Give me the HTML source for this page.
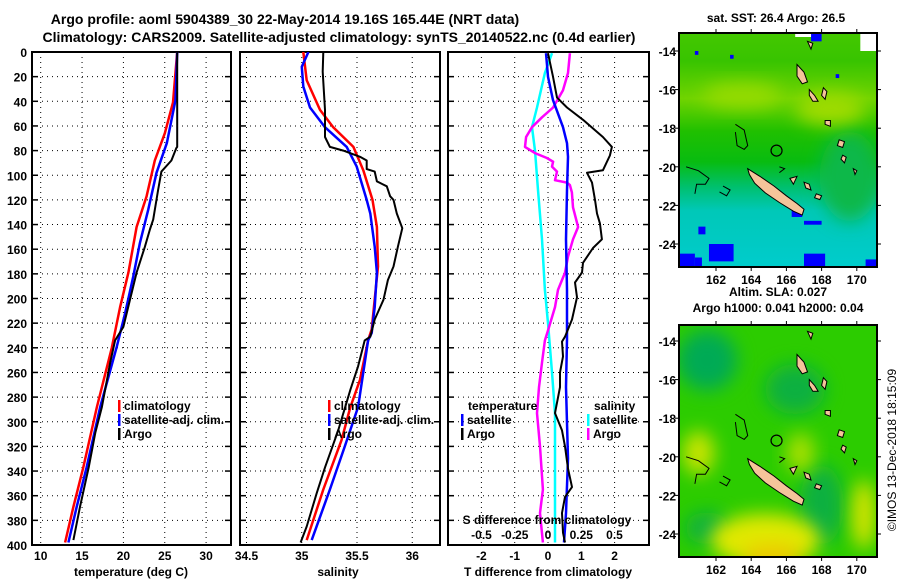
<!DOCTYPE html>
<html><head><meta charset="utf-8"><style>
body{margin:0;background:#fff;}
svg{display:block;font-family:"Liberation Sans",sans-serif;font-weight:bold;}
</style></head><body>
<svg id="c" width="900" height="580" viewBox="0 0 900 580" xmlns="http://www.w3.org/2000/svg">
<defs>
<clipPath id="cp1"><rect x="32" y="52" width="199" height="493"/></clipPath>
<clipPath id="cp2"><rect x="240" y="52" width="200" height="493"/></clipPath>
<clipPath id="cp3"><rect x="448" y="52" width="201" height="493"/></clipPath>
<clipPath id="cm1"><rect x="679" y="33" width="198" height="234"/></clipPath>
<clipPath id="cm2"><rect x="679" y="325" width="198" height="232"/></clipPath>
<filter id="blur" x="-50%" y="-50%" width="200%" height="200%"><feGaussianBlur stdDeviation="9"/></filter>
<linearGradient id="sstg" x1="0" y1="0" x2="0" y2="1">
<stop offset="0" stop-color="#44c800"/><stop offset="0.12" stop-color="#38c400"/>
<stop offset="0.28" stop-color="#70d400"/><stop offset="0.42" stop-color="#20c000"/>
<stop offset="0.55" stop-color="#08bc10"/><stop offset="0.66" stop-color="#00c070"/>
<stop offset="0.76" stop-color="#00c8b8"/><stop offset="1" stop-color="#00cccc"/>
</linearGradient>
</defs>
<text x="285" y="24" font-size="14" text-anchor="middle">Argo profile: aoml 5904389_30 22-May-2014 19.16S 165.44E (NRT data)</text>
<text x="339" y="42" font-size="14" text-anchor="middle">Climatology: CARS2009. Satellite-adjusted climatology: synTS_20140522.nc (0.4d earlier)</text>
<g id="g"></g>
</svg>
<script>
// ---- data: temperature panel ----
const climTDepth=[0,41,66,88,117,142,179,207,240,288,337,369,398];
const climTValue=[26.5,26.0,25.0,23.8,22.8,21.6,20.6,19.6,18.6,16.8,15.15,13.95,12.95];
const satTDepth=[0,39,74,98,128,155,182,212,239,288,337,369,398];
const satTValue=[26.5,26.3,25.25,24.0,23.0,22.0,21.2,20.2,19.2,17.2,15.55,14.35,13.35];
const argoTDepth=[0,77,78,88,97,112,136,144,158,179,201,223,234,252,288,309,337,369,396];
const argoTValue=[26.5,26.5,26.4,25.8,24.6,24.2,23.6,23.2,22.6,21.6,20.8,20.0,19.0,18.4,17.4,16.6,15.8,14.75,13.95];
// ---- data: salinity panel ----
const climSDepth=[0,23,47,61,77,96,120,142,174,225,234,266,288,315,355,396];
const climSValue=[35.014,35.045,35.165,35.285,35.467,35.557,35.64,35.68,35.69,35.633,35.6,35.527,35.44,35.36,35.195,35.045];
const satSDepth=[0,12,28,45,61,77,93,120,131,158,179,207,228,234,288,320,355,396];
const satSValue=[35.06,35.0,35.014,35.075,35.21,35.407,35.497,35.588,35.62,35.66,35.68,35.66,35.633,35.6,35.51,35.39,35.255,35.09];
const argoSDepth=[0,16,47,69,77,80,85,88,95,97,105,109,117,120,131,143,158,174,185,201,217,231,234,255,274,307,337,358,385,398];
const argoSValue=[35.195,35.19,35.21,35.21,35.255,35.376,35.527,35.588,35.588,35.66,35.68,35.77,35.8,35.83,35.86,35.91,35.87,35.83,35.78,35.74,35.66,35.62,35.57,35.51,35.44,35.33,35.21,35.135,35.045,34.99];
// ---- data: difference panel ----
const dTArgoDepth=[1,20,37,45,55,69,77,84,96,98,106,120,131,139,152,159,171,179,187,199,217,231,235,247,260,272,293,307,320,338,353,361,374,390,398];
const dTArgoValue=[0,0.15,0.27,0.57,1.05,1.65,1.92,1.86,1.65,1.17,1.32,1.41,1.47,1.56,1.62,1.35,1.05,1.02,0.81,0.87,0.72,0.51,0.42,0.45,0.36,0.36,0.21,0.42,0.51,0.6,0.72,0.51,0.42,0.45,0.51];
const dTSatDepth=[1,20,39,61,74,85,112,152,193,233,272,330,374,398];
const dTSatValue=[-0.06,0,0.15,0.45,0.57,0.6,0.57,0.54,0.57,0.57,0.54,0.6,0.54,0.48];
const dSSatDepth=[1,17,45,61,80,112,152,193,220,260,293,347,398];
const dSSatValue=[0.03,-0.023,-0.083,-0.12,-0.098,-0.075,-0.045,-0.023,0,0.03,0.053,0.053,0.053];
const dSArgoDepth=[1,17,31,45,53,61,69,77,82,86,89,93,97,104,106,108,114,126,142,152,166,179,193,207,226,234,252,272,293,320,355,374,398];
const dSArgoValue=[0.165,0.15,0.113,0.038,-0.045,-0.12,-0.165,-0.173,-0.098,-0.008,0.038,0.03,0.068,0.053,0.143,0.165,0.18,0.188,0.226,0.188,0.15,0.128,0.075,0.053,0,-0.023,-0.045,-0.068,-0.083,-0.06,-0.038,-0.06,-0.038];
// ---- tick labels ----
const depthTicks=[0,20,40,60,80,100,120,140,160,180,200,220,240,260,280,300,320,340,360,380,400];
const tempTicks=[10,15,20,25,30];
const salTicks=[34.5,35,35.5,36];
const dTTicks=[-2,-1,0,1,2];
const dSTicks=[-0.5,-0.25,0,0.25,0.5];
const dSTickLabels=["-0.5","-0.25","0","0.25","0.5"];
const lonTicks=[162,164,166,168,170];
const latTicks=[14,16,18,20,22,24];

const NS="http://www.w3.org/2000/svg";
const G=document.getElementById('g');
function el(tag,attrs,parent,txt){const e=document.createElementNS(NS,tag);for(const k in attrs)e.setAttribute(k,attrs[k]);if(txt!==undefined)e.textContent=txt;(parent||G).appendChild(e);return e;}
const yD=d=>52+d*1.2325;
const xT=t=>40.7+(t-10)*8.27;
const xS=s=>246.5+(s-34.5)*110.5;
const xDT=t=>548+t*33.3;
const xDS=s=>548+s*133;
const mx=lon=>716+(lon-162)*17.6;
const my1=lat=>51+(lat-14)*19.3;
const my2=lat=>341+(lat-14)*19.3;

function panel(x0,x1,name,gridXs){
  const p=el('g',{});
  
  
  gridXs.forEach(x=>{const l=el('line',{x1:x,x2:x,y1:52,y2:545,stroke:'#000','stroke-width':1,'stroke-dasharray':'1,4'},p);
    });
  depthTicks.forEach(d=>{const y=yD(d);
    if(d>0&&d<400){const l=el('line',{x1:x0,x2:x1,y1:y,y2:y,stroke:'#000','stroke-width':1,'stroke-dasharray':'1,4'},p);
      }
    el('line',{x1:x0,x2:x0+6,y1:y,y2:y,stroke:'#000','stroke-width':1.5},p);
    el('line',{x1:x1-6,x2:x1,y1:y,y2:y,stroke:'#000','stroke-width':1.5},p);
  });
  const r=el('rect',{x:x0,y:52,width:x1-x0,height:493,fill:'none',stroke:'#000','stroke-width':2},p);
  
  return p;
}
function line(depths,vals,fx,color,w,clip,name){
  const pts=depths.map((d,i)=>fx(vals[i]).toFixed(1)+','+yD(d).toFixed(1)).join(' ');
  const pl=el('polyline',{points:pts,fill:'none',stroke:color,'stroke-width':w,'clip-path':'url(#'+clip+')','stroke-linejoin':'round'});
  
  
}
function txt(x,y,s,anchor,size,name){const t=el('text',{x:x,y:y,'font-size':size||12,'text-anchor':anchor||'start'},G,s);
  return t;}
function legend(x,y,color,label,name){
  el('rect',{x:x,y:y-10,width:2.5,height:12,fill:color});
  txt(x+6,y,label,'start',12,name);
}

// Panel 1
panel(32,231,'temperature-panel',tempTicks.map(xT));
depthTicks.forEach(d=>txt(27,yD(d)+5,String(d),'end',12,'y-tick-label'));
tempTicks.forEach(t=>txt(xT(t),560,String(t),'middle',12,'x-tick-temperature'));
txt(131,576,'temperature (deg C)','middle',12,'x-axis-title-temperature');
line(climTDepth,climTValue,xT,'#ff0000',2.5,'cp1','climatology-temperature-line');
line(satTDepth,satTValue,xT,'#0000ff',2.5,'cp1','satellite-temperature-line');
line(argoTDepth,argoTValue,xT,'#000',2,'cp1','argo-temperature-line');
legend(118,410,'#ff0000','climatology','legend-climatology');
legend(118,424,'#0000ff','satellite-adj. clim.','legend-satellite-adj');
legend(118,438,'#000','Argo','legend-argo');

// Panel 2
panel(240,440,'salinity-panel',salTicks.map(xS));
salTicks.forEach(s=>txt(xS(s),560,String(s),'middle',12,'x-tick-salinity'));
txt(338,576,'salinity','middle',12,'x-axis-title-salinity');
line(climSDepth,climSValue,xS,'#ff0000',2.5,'cp2','climatology-salinity-line');
line(satSDepth,satSValue,xS,'#0000ff',2.5,'cp2','satellite-salinity-line');
line(argoSDepth,argoSValue,xS,'#000',2,'cp2','argo-salinity-line');
legend(328,410,'#ff0000','climatology','legend-climatology-s');
legend(328,424,'#0000ff','satellite-adj. clim.','legend-satellite-adj-s');
legend(328,438,'#000','Argo','legend-argo-s');

// Panel 3
panel(448,649,'difference-panel',dTTicks.map(xDT));
dTTicks.forEach(t=>txt(xDT(t),560,String(t),'middle',12,'x-tick-t-difference'));
txt(548,576,'T difference from climatology','middle',12,'x-axis-title-t-difference');
line(dSSatDepth,dSSatValue,xDS,'#00ffff',2.5,'cp3','satellite-salinity-difference-line');
line(dSArgoDepth,dSArgoValue,xDS,'#ff00ff',2.5,'cp3','argo-salinity-difference-line');
line(dTSatDepth,dTSatValue,xDT,'#0000ff',2.5,'cp3','satellite-temperature-difference-line');
line(dTArgoDepth,dTArgoValue,xDT,'#000',2,'cp3','argo-temperature-difference-line');
txt(547,524,'S difference from climatology','middle',12,'s-difference-axis-title');
dSTicks.forEach((s,i)=>txt(xDS(s),539,dSTickLabels[i],'middle',12,'x-tick-s-difference'));
txt(468,410,'temperature','start',12,'legend-title-temperature');
legend(461,424,'#0000ff','satellite','legend-t-satellite');
legend(461,438,'#000','Argo','legend-t-argo');
txt(594,410,'salinity','start',12,'legend-title-salinity');
legend(587,424,'#00ffff','satellite','legend-s-satellite');
legend(587,438,'#ff00ff','Argo','legend-s-argo');

// ---- Maps ----
const islands=[
 [[163.8,20.1],[164.5,20.5],[165.3,21.0],[166.0,21.5],[166.6,21.9],[167.0,22.2],[166.9,22.5],[166.4,22.3],[165.6,21.85],[164.8,21.35],[164.2,20.85],[163.9,20.4]],
 [[166.6,14.7],[167.0,15.1],[167.2,15.6],[166.9,15.7],[166.6,15.3]],
 [[167.3,16.0],[167.6,16.3],[167.8,16.6],[167.5,16.6],[167.3,16.3]],
 [[168.1,15.9],[168.3,16.1],[168.2,16.5],[168.0,16.3]],
 [[168.2,17.6],[168.5,17.6],[168.5,17.9],[168.2,17.8]],
 [[169.0,18.6],[169.3,18.7],[169.2,19.0],[168.9,18.9]],
 [[169.2,19.4],[169.4,19.5],[169.3,19.8],[169.1,19.6]],
 [[167.0,20.8],[167.3,20.9],[167.4,21.2],[167.1,21.1]],
 [[167.7,21.4],[168.0,21.5],[167.9,21.7],[167.6,21.6]],
 [[166.2,20.6],[166.6,20.5],[166.4,20.9]],
 [[169.8,20.1],[170.0,20.2],[169.9,20.4]],
 [[167.2,13.5],[167.5,13.6],[167.4,13.9]]
];
const reefs=[
 [[163.1,17.8],[163.6,18.1],[163.8,18.9],[163.6,19.1],[163.2,18.9],[163.1,18.2]],
 [[160.3,20.0],[161.0,20.2],[161.6,20.6],[161.4,20.9],[160.9,20.9],[160.8,21.4]],
 [[162.4,21.0],[162.8,21.2],[162.6,21.5],[162.2,21.3]],
 [[165.6,20.0],[165.9,20.1],[165.6,20.3]]
];
function drawIslands(my,parent){
  islands.forEach(poly=>{const p=el('polygon',{points:poly.map(q=>mx(q[0]).toFixed(1)+','+my(q[1]).toFixed(1)).join(' '),fill:'#f5c49a',stroke:'#000','stroke-width':1},parent);
    });
  reefs.forEach(poly=>{const p=el('polyline',{points:poly.map(q=>mx(q[0]).toFixed(1)+','+my(q[1]).toFixed(1)).join(' '),fill:'none',stroke:'#000','stroke-width':1},parent);
    });
  const c=el('circle',{cx:mx(165.44),cy:my(19.16),r:5.5,fill:'none',stroke:'#000','stroke-width':1.2},parent);
  
}
function mapAxes(top,bottom,my,name){
  const fr=el('rect',{x:679,y:top,width:198,height:bottom-top,fill:'none',stroke:'#000','stroke-width':2});
  
  lonTicks.forEach(l=>{el('line',{x1:mx(l),x2:mx(l),y1:bottom,y2:bottom+4,stroke:'#000'});el('line',{x1:mx(l),x2:mx(l),y1:top,y2:top-4,stroke:'#000'});
    txt(mx(l),bottom+17,String(l),'middle',12,name+'-lon-label');});
  latTicks.forEach(l=>{el('line',{x1:877,x2:881,y1:my(l),y2:my(l),stroke:'#000'});el('line',{x1:675,x2:679,y1:my(l),y2:my(l),stroke:'#000'});
    txt(676,my(l)+5,'-'+l,'end',12,name+'-lat-label');});
}
// Map 1 SST
const m1=el('g',{'clip-path':'url(#cm1)'});


el('rect',{x:679,y:33,width:198,height:234,fill:'url(#sstg)'},m1);
el('ellipse',{cx:mx(169.6),cy:my1(20.5),rx:30,ry:45,fill:'#10b848',filter:'url(#blur)'},m1);
el('ellipse',{cx:mx(168.5),cy:my1(17),rx:35,ry:16,fill:'#a0dc00',filter:'url(#blur)'},m1);
el('ellipse',{cx:mx(163.5),cy:my1(16.3),rx:40,ry:12,fill:'#98dc00',filter:'url(#blur)'},m1);
[[159.9,24.5,160.8,25.3],[160.8,24.7,161.2,25.3],[161.6,24.0,163.0,24.9],[161.0,23.1,161.4,23.5],[167.0,24.5,168.2,25.3],[170.5,24.8,171.2,25.3],[166.3,22.2,166.9,22.6],[167.0,22.8,168.0,23.0],[167.4,13.1,168.0,13.5],[160.8,14.0,161.0,14.2],[162.8,14.2,163.0,14.4],[168.8,15.2,169.0,15.4]].forEach(b=>{
  const r=el('rect',{x:mx(b[0]),y:my1(b[1]),width:mx(b[2])-mx(b[0]),height:my1(b[3])-my1(b[1]),fill:'#0000ff'},m1);
  });
el('rect',{x:mx(170.2),y:33,width:mx(171.2)-mx(170.2),height:my1(14.0)-33,fill:'#fff'},m1);
el('rect',{x:mx(166.5),y:33,width:mx(167.4)-mx(166.5),height:4,fill:'#fff'},m1);
drawIslands(my1,m1);
mapAxes(33,267,my1,'sst-map');
txt(776,22,'sat. SST: 26.4 Argo: 26.5','middle',12,'sst-map-title');

// Map 2 SLA
const m2=el('g',{'clip-path':'url(#cm2)'});


el('rect',{x:679,y:325,width:198,height:232,fill:'#2ccc00'},m2);
el('ellipse',{cx:mx(161.5),cy:my2(15),rx:30,ry:30,fill:'#00aa55',filter:'url(#blur)'},m2);
el('ellipse',{cx:mx(166.5),cy:my2(16.5),rx:30,ry:25,fill:'#10b040',filter:'url(#blur)'},m2);
el('ellipse',{cx:mx(168),cy:my2(22.5),rx:22,ry:40,fill:'#10b040',filter:'url(#blur)'},m2);
el('ellipse',{cx:mx(161.5),cy:my2(23.7),rx:22,ry:16,fill:'#10b040',filter:'url(#blur)'},m2);
el('ellipse',{cx:mx(164.8),cy:my2(24.3),rx:55,ry:26,fill:'#e0e800',filter:'url(#blur)'},m2);
el('ellipse',{cx:mx(165.2),cy:my2(25.2),rx:30,ry:12,fill:'#f0c800',filter:'url(#blur)'},m2);
el('ellipse',{cx:mx(161.0),cy:my2(19.8),rx:16,ry:22,fill:'#c8e400',filter:'url(#blur)'},m2);
el('ellipse',{cx:mx(170.4),cy:my2(23.0),rx:12,ry:35,fill:'#d8e400',filter:'url(#blur)'},m2);
el('ellipse',{cx:mx(166.8),cy:my2(19.8),rx:14,ry:20,fill:'#a8e000',filter:'url(#blur)'},m2);
drawIslands(my2,m2);
mapAxes(325,557,my2,'sla-map');
txt(778,296,'Altim. SLA: 0.027','middle',12,'sla-map-title-1');
txt(778,312,'Argo h1000: 0.041 h2000: 0.04','middle',12,'sla-map-title-2');
const ts=txt(0,0,'©IMOS 13-Dec-2018 18:15:09','middle',12,'timestamp');
ts.setAttribute('font-weight','normal');
ts.setAttribute('transform','translate(896,450) rotate(-90)');
</script>
</body></html>
